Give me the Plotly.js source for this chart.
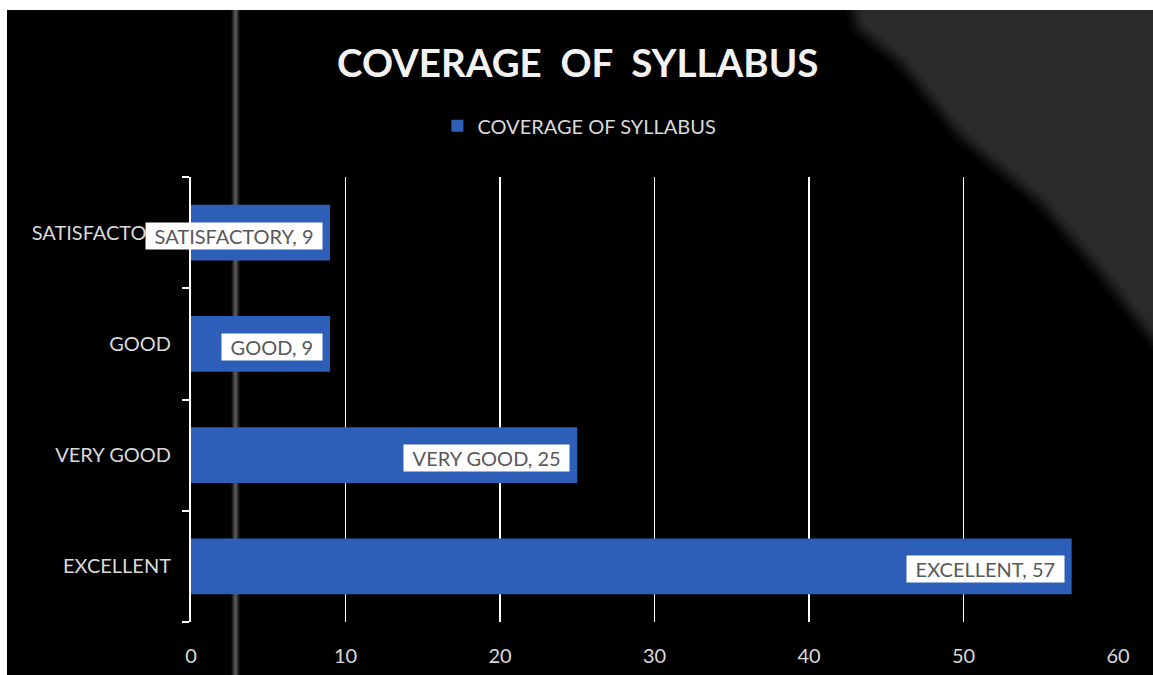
<!DOCTYPE html>
<html>
<head>
<meta charset="utf-8">
<script src="https://cdn.plot.ly/plotly-3.0.1.min.js"></script>
<style>
  html, body { margin: 0; padding: 0; background: #ffffff; width: 1153px; height: 675px; overflow: hidden; }
  #bg { position: absolute; left: 7px; top: 10px; width: 1146px; height: 665px; background: #000000; }
  #chart { position: absolute; left: 7px; top: 10px; width: 1146px; height: 665px; }
</style>
</head>
<body>
<div id="bg">
  <svg width="1146" height="665" xmlns="http://www.w3.org/2000/svg">
    <defs>
      <filter id="blur"><feGaussianBlur stdDeviation="6"/></filter>
      <linearGradient id="stripe" x1="0" x2="1" y1="0" y2="0">
        <stop offset="0" stop-color="#000000"/>
        <stop offset="0.5" stop-color="#5e5e5e"/>
        <stop offset="1" stop-color="#000000"/>
      </linearGradient>
    </defs>
    <polygon points="843,-10 1160,-10 1160,348 1093,262 1033,192 953,126 893,52 850,18" fill="#2b2b2b" filter="url(#blur)"/>
    <rect x="224" y="0" width="9" height="665" fill="url(#stripe)"/>
  </svg>
</div>
<div id="chart"></div>
<script>
// ---- data ----
const categories = ["EXCELLENT", "VERY GOOD", "GOOD", "SATISFACTORY"];
const values = [57, 25, 9, 9];
const seriesName = "COVERAGE OF SYLLABUS";
const chartTitle = "COVERAGE\u00a0\u00a0OF\u00a0\u00a0SYLLABUS";
const xTickValues = [0, 10, 20, 30, 40, 50, 60];

const FONT = "Lato, 'Open Sans', sans-serif";
const barColor = "#2e5fb8";
const PAD = "\u00a0\u2009";

const trace = {
  type: "bar",
  orientation: "h",
  y: categories,
  x: values,
  name: seriesName,
  width: 0.5,
  marker: { color: barColor, line: { width: 0 } },
  hoverinfo: "none",
  showlegend: true
};

const annotations = categories.map((c, i) => ({
  x: values[i],
  y: c,
  xref: "x",
  yref: "y",
  text: PAD + c + ", " + values[i] + PAD,
  showarrow: false,
  xanchor: "right",
  yanchor: "middle",
  xshift: -7,
  yshift: -3,
  bgcolor: "#ffffff",
  borderpad: 1,
  font: { family: FONT, size: 20, color: "#595959" }
}));

const layout = {
  width: 1146,
  height: 665,
  paper_bgcolor: "rgba(0,0,0,0)",
  plot_bgcolor: "rgba(0,0,0,0)",
  margin: { l: 184, r: 35, t: 167, b: 53 },
  title: {
    text: chartTitle,
    xref: "container",
    yref: "container",
    x: 0.498,
    y: 0.919,
    xanchor: "center",
    yanchor: "middle",
    font: { family: FONT, size: 38.5, color: "#f2f2f2", weight: "bold" }
  },
  showlegend: true,
  legend: {
    orientation: "h",
    x: 0.419,
    xanchor: "center",
    y: 1.115,
    yanchor: "middle",
    font: { family: FONT, size: 20, color: "#d9d9d9" },
    bgcolor: "rgba(0,0,0,0)",
    itemwidth: 30
  },
  xaxis: {
    range: [0, 60],
    tickvals: xTickValues,
    ticktext: xTickValues.map(String),
    showgrid: true,
    gridcolor: "#ffffff",
    gridwidth: 1.5,
    zeroline: false,
    showline: false,
    ticks: "",
    tickfont: { family: FONT, size: 20, color: "#d9d9d9" },
    ticklabelstandoff: 20,
    fixedrange: true
  },
  yaxis: {
    type: "category",
    categoryorder: "array",
    categoryarray: categories,
    range: [-0.5, 3.5],
    showgrid: false,
    zeroline: false,
    showline: true,
    linecolor: "#ffffff",
    linewidth: 2,
    ticks: "outside",
    tickson: "boundaries",
    ticklen: 7,
    tickcolor: "#ffffff",
    tickwidth: 2,
    tickfont: { family: FONT, size: 20, color: "#d9d9d9" },
    ticklabelstandoff: 14,
    fixedrange: true
  },
  annotations: annotations,
  bargap: 0.5
};

Plotly.newPlot("chart", [trace], layout, { displayModeBar: false, staticPlot: true });
</script>
</body>
</html>
